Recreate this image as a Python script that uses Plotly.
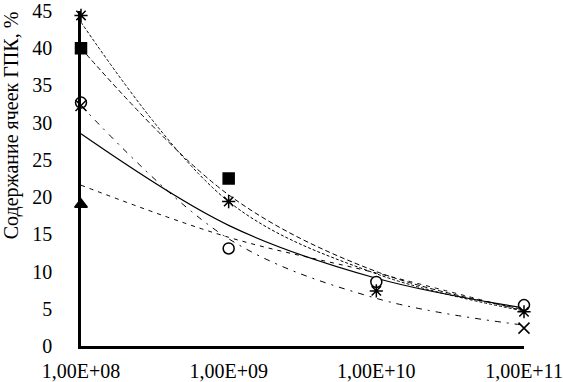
import plotly.graph_objects as go

# x positions (cells per ...), log scale
x_dec = [1e8, 1e9, 1e10, 1e11]
tick_labels = ["1,00E+08", "1,00E+09", "1,00E+10", "1,00E+11"]

# marker series (None = not visible)
tri_y = [19.0, None, None, None]
sq_y = [40.0, 22.5, None, None]
circ_y = [32.7, 13.1, 8.6, 5.5]
star_y = [44.4, 19.4, 7.4, 4.6]
cross_y = [32.3, None, None, 2.4]

# trend lines, read at each decade
trend_circ = [28.5, 16.2, 9.1, 5.1]
trend_star = [43.5, 19.4, 9.7, 4.7]
trend_sq = [40.0, 20.3, 10.0, 4.9]
trend_cross = [32.3, 14.4, 6.4, 2.8]
trend_tri = [21.6, 14.6, 9.8, 4.7]

FONT = "Liberation Serif"
fig = go.Figure()

def trend(y, dash, width=1.0):
    fig.add_trace(go.Scatter(x=x_dec, y=y, mode="lines", cliponaxis=False,
        line=dict(color="black", width=width, dash=dash, shape="spline", smoothing=1.0), hoverinfo="skip"))

trend(trend_circ, "solid", 1.2)
trend(trend_star, "3px,2px", 1.0)
trend(trend_sq, "5px,3px", 1.0)
trend(trend_cross, "6px,6px,2px,6px", 1.0)
trend(trend_tri, "4px,5px", 1.0)

def marks(y, symbol, size, filled=True):
    fig.add_trace(go.Scatter(x=x_dec, y=y, mode="markers", cliponaxis=False,
        marker=dict(symbol=symbol, size=size,
                    color="black" if filled else "white",
                    line=dict(color="black", width=1.5))))

marks(tri_y, "triangle-up", 11)
marks(sq_y, "square", 11)
marks(circ_y, "circle", 11, filled=False)
marks(star_y, "asterisk-open", 11)
marks(cross_y, "x-thin-open", 11)

fig.update_layout(
    width=563, height=382,
    margin=dict(l=81, r=39, t=11, b=36),
    paper_bgcolor="white", plot_bgcolor="white",
    showlegend=False,
    font=dict(family=FONT, size=20, color="black"),
    xaxis=dict(type="log", range=[8, 11], tickvals=x_dec, ticktext=tick_labels, automargin=False,
               showgrid=False, zeroline=False, showline=True, linecolor="black", linewidth=2.5,
               ticks="", ticklabelstandoff=5),
    yaxis=dict(range=[0, 45], tickvals=list(range(0, 46, 5)), automargin=False,
               showgrid=False, zeroline=False, showline=True, linecolor="black", linewidth=2.5,
               ticks="", ticklabelstandoff=22),
    annotations=[dict(text="Содержание ячеек ГПК, %", textangle=-90, xref="paper", yref="paper",
                      x=-0.155, y=0.66, xanchor="center", yanchor="middle", showarrow=False,
                      font=dict(family=FONT, size=20, color="black"))],
)

fig.write_html("out.html", config={"displayModeBar": False},
               post_script="document.body.style.margin='0px';")
